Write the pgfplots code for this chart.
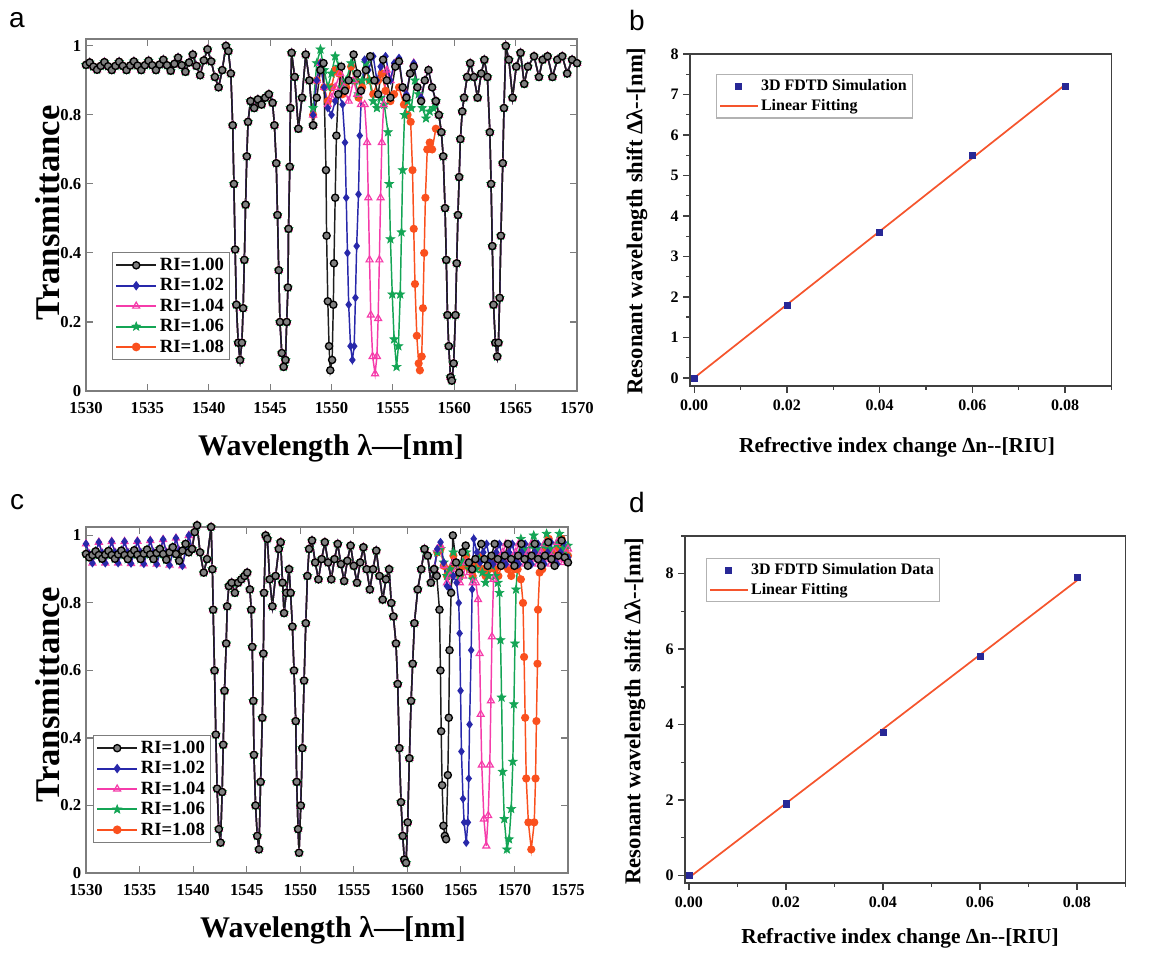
\documentclass[border=0pt]{standalone}
\usepackage{fontspec}
\setmainfont{Liberation Serif}
\newfontfamily\panelfont{Liberation Sans}
\usepackage{pgfplots}
\usepackage{pgfplotstable}
\pgfplotsset{compat=1.18}

\definecolor{c0}{RGB}{30,30,30}
\definecolor{c2}{RGB}{40,40,170}
\definecolor{c4}{RGB}{245,60,170}
\definecolor{c6}{RGB}{20,165,85}
\definecolor{c8}{RGB}{250,80,30}
\definecolor{fitred}{RGB}{245,85,45}
\definecolor{ptblue}{RGB}{40,40,150}
\definecolor{framegray}{RGB}{125,125,125}

% filled five-point star for RI=1.06
\pgfdeclareplotmark{fstar}{%
  \pgfpathmoveto{\pgfpointpolar{90}{\pgfplotmarksize}}%
  \pgfpathlineto{\pgfpointpolar{126}{0.42\pgfplotmarksize}}%
  \pgfpathlineto{\pgfpointpolar{162}{\pgfplotmarksize}}%
  \pgfpathlineto{\pgfpointpolar{198}{0.42\pgfplotmarksize}}%
  \pgfpathlineto{\pgfpointpolar{234}{\pgfplotmarksize}}%
  \pgfpathlineto{\pgfpointpolar{270}{0.42\pgfplotmarksize}}%
  \pgfpathlineto{\pgfpointpolar{306}{\pgfplotmarksize}}%
  \pgfpathlineto{\pgfpointpolar{342}{0.42\pgfplotmarksize}}%
  \pgfpathlineto{\pgfpointpolar{18}{\pgfplotmarksize}}%
  \pgfpathlineto{\pgfpointpolar{54}{0.42\pgfplotmarksize}}%
  \pgfpathclose
  \pgfusepathqfillstroke
}

\pgfplotsset{
  ri0/.style={color=c0, line width=1.1pt, mark=*, mark size=2.7pt,
    mark options={fill=black!50, draw=black, line width=1pt}},
  ri2/.style={color=c2, line width=1.1pt, mark=diamond*, mark size=2.4pt},
  ri4/.style={color=c4, line width=1.1pt, mark=triangle, mark size=3pt,
    mark options={line width=0.9pt}},
  ri6/.style={color=c6, line width=1.1pt, mark=fstar, mark size=3.4pt,
    mark options={line width=0.5pt}},
  ri8/.style={color=c8, line width=1.1pt, mark=*, mark size=2.5pt},
  spec/.style={
    scale only axis, anchor=north west,
    xmin=1530, ymin=0, clip=false,
    axis line style={framegray, line width=0.9pt},
    tick style={framegray, line width=0.8pt},
    tick align=inside, major tick length=5pt,
    ytick={0,0.2,0.4,0.6,0.8,1},
    tick label style={font=\bfseries\fontsize{12.5}{13}\selectfont},
    xticklabel style={yshift=-5pt},
    /pgf/number format/assume math mode=true,
    /pgf/number format/1000 sep={},
    legend cell align=left,
    legend image code/.code={\draw[line width=1.5pt, mark repeat=2, mark phase=2]
      plot coordinates {(0pt,0pt) (15pt,0pt) (30pt,0pt)};},
    legend style={draw=framegray, line width=0.8pt, fill=white,
      font=\bfseries\fontsize{14}{15}\selectfont,
      inner sep=2pt, row sep=0.5pt},
  },
  fit/.style={
    scale only axis, anchor=north west,
    axis line style={black!75, line width=1.1pt},
    tick style={black!75, line width=1pt},
    tick align=outside, xtick pos=left, ytick pos=left,
    major tick length=5pt, minor tick length=3pt,
    xmin=-0.0009, xmax=0.09,
    xtick={0,0.02,0.04,0.06,0.08},
    minor xtick={0.01,0.03,0.05,0.07,0.09},
    scaled x ticks=false,
    tick label style={font=\bfseries\fontsize{12}{13}\selectfont},
    /pgf/number format/assume math mode=true,
    xticklabel style={yshift=-2pt, /pgf/number format/fixed,
      /pgf/number format/fixed zerofill, /pgf/number format/precision=2},
    legend cell align=left,
    legend image code/.code={\draw[mark repeat=2,mark phase=2]
      plot coordinates {(0pt,0pt) (14pt,0pt) (28pt,0pt)};},
    legend style={draw=black!30, line width=0.8pt, fill=white,
      font=\bfseries\fontsize{12}{13}\selectfont,
      inner sep=2pt, row sep=1pt},
  },
}

% ---------- panel a: shared parts ----------
\pgfplotstableread{
x y
1530.0 0.945
1530.3 0.952
1530.6 0.940
1530.9 0.931
1531.2 0.942
1531.5 0.953
1531.8 0.941
1532.1 0.930
1532.4 0.942
1532.7 0.954
1533.0 0.942
1533.3 0.930
1533.6 0.943
1533.9 0.955
1534.2 0.943
1534.5 0.930
1534.8 0.944
1535.1 0.957
1535.4 0.944
1535.7 0.930
1536.0 0.946
1536.3 0.960
1536.6 0.944
1536.9 0.928
1537.2 0.948
1537.5 0.966
1537.8 0.944
1538.1 0.925
1538.4 0.952
1538.7 0.975
1539.0 0.942
1539.3 0.915
1539.6 0.958
1539.9 0.990
1540.2 0.955
1540.5 0.910
1540.8 0.880
1541.1 0.930
1541.4 1.000
1541.6 0.985
1541.8 0.920
1541.95 0.770
1542.05 0.600
1542.15 0.410
1542.25 0.250
1542.4 0.140
1542.55 0.090
1542.7 0.140
1542.8 0.240
1542.9 0.380
1543.0 0.540
1543.1 0.680
1543.2 0.780
1543.4 0.840
1543.7 0.820
1544.0 0.845
1544.3 0.830
1544.6 0.850
1544.9 0.860
1545.2 0.835
1545.35 0.770
1545.5 0.660
1545.6 0.510
1545.7 0.350
1545.8 0.200
1545.95 0.110
1546.1 0.070
1546.25 0.090
1546.35 0.200
1546.45 0.300
1546.5 0.470
1546.6 0.650
1546.65 0.820
1546.75 0.980
1547.0 0.910
1547.3 0.760
1547.6 0.850
1547.9 0.975
1548.2 0.900
1548.5 0.770
}\aL

\pgfplotstableread{
x y
1558.5 0.840
1558.75 0.800
1558.95 0.750
1559.1 0.680
1559.25 0.530
1559.35 0.380
1559.45 0.220
1559.55 0.130
1559.7 0.040
1559.8 0.030
1559.95 0.080
1560.1 0.220
1560.2 0.370
1560.3 0.510
1560.4 0.620
1560.5 0.730
1560.65 0.810
1560.8 0.850
1561.05 0.910
1561.3 0.950
1561.6 0.910
1561.9 0.850
1562.2 0.920
1562.45 0.960
1562.7 0.910
1562.9 0.750
1563.0 0.600
1563.1 0.420
1563.2 0.250
1563.35 0.140
1563.5 0.100
1563.6 0.140
1563.7 0.270
1563.8 0.450
1563.95 0.660
1564.05 0.820
1564.2 1.000
1564.45 0.960
1564.75 0.850
1565.05 0.940
1565.4 0.980
1565.7 0.890
1566.0 0.940
1566.5 0.970
1566.9 0.910
1567.2 0.960
1567.6 0.970
1568.0 0.910
1568.4 0.960
1568.8 0.970
1569.2 0.920
1569.6 0.960
1570.0 0.950
}\aR

% ---------- panel a: series-specific middle parts ----------
\pgfplotstableread{
x y
1548.5 0.770
1548.8 0.850
1549.1 0.930
1549.35 0.950
1549.55 0.640
1549.6 0.450
1549.7 0.260
1549.8 0.130
1549.9 0.060
1550.05 0.090
1550.15 0.250
1550.2 0.370
1550.3 0.560
1550.4 0.740
1550.55 0.860
1550.8 0.940
1551.1 0.870
1551.4 0.900
1551.8 0.975
1552.1 0.920
1552.4 0.870
1552.8 0.930
1553.15 0.970
1553.5 0.900
1553.8 0.860
1554.2 0.960
1554.5 0.900
1554.8 0.850
1555.2 0.940
1555.5 0.955
1555.8 0.880
1556.1 0.850
1556.4 0.920
1556.7 0.940
1557.0 0.880
1557.3 0.840
1557.6 0.900
1557.9 0.930
1558.2 0.880
1558.5 0.840
}\amA

\pgfplotstableread{
x y
1548.5 0.800
1548.8 0.900
1549.1 0.950
1549.4 0.880
1549.7 0.820
1550.0 0.800
1550.3 0.840
1550.6 0.860
1550.9 0.830
1551.1 0.720
1551.2 0.560
1551.3 0.400
1551.4 0.250
1551.55 0.130
1551.7 0.090
1551.85 0.130
1551.95 0.270
1552.05 0.420
1552.2 0.570
1552.3 0.740
1552.45 0.870
1552.7 0.960
1553.0 0.930
1553.4 0.970
1553.7 0.900
1554.0 0.940
1554.4 0.970
1554.8 0.900
1555.1 0.950
1555.5 0.965
1555.8 0.880
1556.1 0.860
1556.4 0.920
1556.7 0.950
1557.0 0.880
1557.3 0.850
1557.6 0.900
1557.9 0.930
1558.2 0.880
1558.5 0.840
}\amB

\pgfplotstableread{
x y
1548.5 0.800
1548.8 0.900
1549.1 0.950
1549.4 0.880
1549.7 0.830
1550.0 0.850
1550.3 0.880
1550.7 0.920
1551.0 0.880
1551.4 0.840
1551.8 0.900
1552.1 0.860
1552.4 0.830
1552.7 0.830
1552.9 0.720
1553.0 0.560
1553.1 0.380
1553.2 0.220
1553.35 0.100
1553.55 0.050
1553.7 0.100
1553.8 0.210
1553.9 0.380
1554.0 0.560
1554.1 0.720
1554.25 0.830
1554.5 0.930
1554.8 0.900
1555.2 0.950
1555.5 0.955
1555.8 0.880
1556.1 0.860
1556.4 0.920
1556.7 0.950
1557.0 0.880
1557.3 0.850
1557.6 0.900
1557.9 0.930
1558.2 0.880
1558.5 0.840
}\amC

\pgfplotstableread{
x y
1548.5 0.820
1548.8 0.950
1549.1 0.990
1549.4 0.930
1549.7 0.880
1550.0 0.920
1550.3 0.970
1550.6 0.940
1550.9 0.880
1551.2 0.900
1551.6 0.950
1551.9 0.900
1552.2 0.860
1552.5 0.900
1552.8 0.950
1553.1 0.900
1553.4 0.840
1553.7 0.820
1554.0 0.850
1554.3 0.830
1554.6 0.750
1554.7 0.600
1554.8 0.440
1554.95 0.280
1555.1 0.150
1555.3 0.070
1555.45 0.130
1555.6 0.280
1555.7 0.460
1555.8 0.640
1555.95 0.800
1556.2 0.840
1556.5 0.820
1556.8 0.900
1557.1 0.860
1557.4 0.820
1557.7 0.790
1558.0 0.810
1558.3 0.820
1558.5 0.840
}\amD

\pgfplotstableread{
x y
1548.5 0.800
1548.8 0.900
1549.1 0.950
1549.4 0.880
1549.7 0.840
1550.0 0.880
1550.3 0.930
1550.6 0.920
1550.9 0.860
1551.2 0.880
1551.6 0.940
1551.9 0.900
1552.2 0.850
1552.5 0.880
1552.8 0.930
1553.1 0.900
1553.4 0.860
1553.8 0.900
1554.1 0.920
1554.4 0.870
1554.8 0.840
1555.1 0.860
1555.5 0.880
1555.9 0.830
1556.2 0.800
1556.45 0.780
1556.6 0.640
1556.7 0.470
1556.8 0.310
1556.95 0.160
1557.1 0.080
1557.2 0.060
1557.35 0.100
1557.45 0.240
1557.55 0.400
1557.65 0.560
1557.8 0.700
1558.0 0.720
1558.2 0.700
1558.5 0.760
}\amE

% ---------- panel c: shared parts ----------
\pgfplotstableread{
x y
1530.0 0.945
1530.3 0.935
1530.6 0.942
1530.9 0.953
1531.2 0.942
1531.5 0.931
1531.8 0.943
1532.1 0.954
1532.4 0.942
1532.7 0.931
1533.0 0.944
1533.3 0.955
1533.6 0.942
1533.9 0.930
1534.2 0.945
1534.5 0.956
1534.8 0.943
1535.1 0.930
1535.4 0.946
1535.7 0.958
1536.0 0.944
1536.3 0.930
1536.6 0.948
1536.9 0.960
1537.2 0.945
1537.5 0.928
1537.8 0.950
1538.1 0.965
1538.4 0.945
1538.7 0.925
1539.0 0.955
1539.3 0.975
1539.6 0.950
1539.9 0.960
}\cflat

\pgfplotstableread{
x y
1530.0 0.975
1530.3 0.945
1530.6 0.918
1530.9 0.948
1531.2 0.980
1531.5 0.948
1531.8 0.918
1532.1 0.950
1532.4 0.982
1532.7 0.950
1533.0 0.918
1533.3 0.948
1533.6 0.982
1533.9 0.950
1534.2 0.917
1534.5 0.948
1534.8 0.983
1535.1 0.950
1535.4 0.916
1535.7 0.950
1536.0 0.985
1536.3 0.950
1536.6 0.915
1536.9 0.950
1537.2 0.988
1537.5 0.950
1537.8 0.912
1538.1 0.950
1538.4 0.992
1538.7 0.955
1539.0 0.910
1539.3 0.955
1539.6 1.000
1539.9 0.960
}\cflatb

\pgfplotstableread{
x y
1539.9 0.960
1540.15 1.010
1540.37 1.030
1540.65 0.950
1540.99 0.890
1541.3 0.930
1541.68 1.025
1541.8 0.900
1541.87 0.780
1542.0 0.600
1542.12 0.410
1542.24 0.250
1542.40 0.130
1542.56 0.090
1542.71 0.240
1542.81 0.380
1542.93 0.540
1543.09 0.680
1543.18 0.790
1543.34 0.850
1543.6 0.860
1543.9 0.830
1544.2 0.860
1544.5 0.870
1544.8 0.880
1545.05 0.890
1545.3 0.840
1545.43 0.780
1545.52 0.670
1545.62 0.510
1545.68 0.350
1545.83 0.200
1545.99 0.110
1546.15 0.070
1546.3 0.270
1546.46 0.460
1546.56 0.650
1546.62 0.830
1546.77 1.000
1546.93 0.990
1547.15 0.870
1547.4 0.790
1547.7 0.880
1548.0 0.960
1548.17 0.980
1548.35 0.860
1548.49 0.770
1548.7 0.830
1548.96 0.900
1549.1 0.830
1549.27 0.730
1549.42 0.600
1549.58 0.450
1549.67 0.270
1549.8 0.130
1549.89 0.060
1550.05 0.200
1550.2 0.370
1550.36 0.570
1550.52 0.740
1550.67 0.880
1550.83 0.960
1551.1 0.985
1551.4 0.920
1551.7 0.870
1552.0 0.930
1552.3 0.980
1552.6 0.920
1552.9 0.870
1553.2 0.930
1553.5 0.975
1553.8 0.915
1554.1 0.865
1554.4 0.925
1554.7 0.970
1555.0 0.910
1555.3 0.860
1555.6 0.920
1555.9 0.965
1556.2 0.900
1556.5 0.840
1556.8 0.900
1557.1 0.955
1557.4 0.880
1557.7 0.810
1558.0 0.870
1558.3 0.900
1558.5 0.800
1558.7 0.760
1558.94 0.680
1559.1 0.560
1559.25 0.370
1559.41 0.210
1559.57 0.110
1559.72 0.040
1559.88 0.030
1560.03 0.150
1560.19 0.340
1560.35 0.510
1560.5 0.620
1560.66 0.740
1560.97 0.840
1561.3 0.900
1561.6 0.960
1561.9 0.940
1562.2 0.860
1562.5 0.900
}\cmain

% ---------- panel c: series-specific right parts ----------
\pgfplotstableread{
x y
1562.5 0.900
1562.75 0.880
1563.0 0.780
1563.09 0.600
1563.16 0.420
1563.25 0.260
1563.37 0.140
1563.5 0.110
1563.62 0.100
1563.78 0.290
1563.87 0.460
1563.94 0.660
1564.09 0.830
1564.25 1.000
1564.55 0.920
1564.85 0.890
1565.15 0.950
1565.45 0.970
1565.75 0.920
1566.05 0.900
1566.35 0.930
1566.9 0.975
1567.2 0.930
1567.5 0.910
1567.85 0.940
1568.15 0.975
1568.45 0.930
1568.75 0.910
1569.1 0.940
1569.4 0.975
1569.7 0.930
1570.0 0.910
1570.35 0.940
1570.65 0.975
1570.95 0.930
1571.25 0.910
1571.6 0.940
1571.9 0.975
1572.2 0.930
1572.5 0.910
1572.85 0.940
1573.15 0.980
1573.45 0.930
1573.75 0.910
1574.1 0.940
1574.4 0.985
1574.7 0.935
1575.0 0.920
}\cmA

\pgfplotstableread{
x y
1562.5 0.900
1562.8 0.960
1563.1 0.980
1563.4 0.920
1563.7 0.850
1564.0 0.840
1564.3 0.880
1564.6 0.860
1564.8 0.800
1564.88 0.710
1564.97 0.540
1565.05 0.360
1565.2 0.220
1565.3 0.150
1565.5 0.090
1565.65 0.150
1565.73 0.280
1565.81 0.440
1565.96 0.660
1566.05 0.840
1566.2 0.990
1566.5 0.950
1566.8 0.920
1567.1 0.950
1567.4 0.975
1567.7 0.930
1568.0 0.915
1568.3 0.950
1568.6 0.975
1568.9 0.930
1569.2 0.915
1569.5 0.950
1569.8 0.975
1570.1 0.930
1570.4 0.915
1570.7 0.950
1571.0 0.975
1571.3 0.930
1571.6 0.915
1571.9 0.950
1572.2 0.975
1572.5 0.930
1572.8 0.915
1573.1 0.950
1573.4 0.980
1573.7 0.930
1574.0 0.915
1574.3 0.950
1574.6 0.980
1575.0 0.935
}\cmB

\pgfplotstableread{
x y
1562.5 0.900
1562.8 0.960
1563.1 0.970
1563.4 0.910
1563.7 0.860
1564.0 0.880
1564.3 0.920
1564.6 0.900
1564.9 0.860
1565.2 0.880
1565.5 0.920
1565.8 0.890
1566.1 0.860
1566.4 0.860
1566.6 0.810
1566.75 0.650
1566.85 0.470
1566.95 0.320
1567.15 0.160
1567.37 0.080
1567.55 0.170
1567.7 0.320
1567.8 0.510
1567.9 0.700
1568.05 0.870
1568.3 0.950
1568.6 0.920
1568.9 0.950
1569.2 0.975
1569.5 0.930
1569.8 0.915
1570.1 0.950
1570.4 0.975
1570.7 0.930
1571.0 0.915
1571.3 0.950
1571.6 0.975
1571.9 0.930
1572.2 0.915
1572.5 0.950
1572.8 0.975
1573.1 0.930
1573.4 0.915
1573.7 0.950
1574.0 0.980
1574.3 0.930
1574.6 0.920
1575.0 0.960
}\cmC

\pgfplotstableread{
x y
1562.5 0.900
1562.8 0.950
1563.1 0.960
1563.4 0.920
1563.7 0.880
1564.0 0.900
1564.3 0.950
1564.6 0.910
1564.9 0.880
1565.2 0.920
1565.5 0.950
1565.8 0.900
1566.1 0.870
1566.4 0.900
1566.7 0.930
1567.0 0.890
1567.3 0.860
1567.6 0.880
1567.9 0.910
1568.2 0.880
1568.45 0.860
1568.6 0.830
1568.7 0.690
1568.8 0.520
1568.9 0.300
1569.05 0.160
1569.3 0.070
1569.5 0.100
1569.7 0.190
1569.85 0.330
1569.95 0.500
1570.05 0.680
1570.15 0.840
1570.35 0.940
1570.6 0.990
1570.9 0.960
1571.2 0.930
1571.5 0.970
1571.8 1.000
1572.1 0.960
1572.4 0.930
1572.7 0.970
1573.0 1.005
1573.3 0.960
1573.6 0.935
1573.9 0.975
1574.2 1.005
1574.5 0.960
1574.8 0.940
1575.0 0.970
}\cmD

\pgfplotstableread{
x y
1562.5 0.900
1562.8 0.950
1563.1 0.960
1563.4 0.910
1563.7 0.880
1564.0 0.900
1564.3 0.940
1564.6 0.910
1564.9 0.880
1565.2 0.910
1565.5 0.940
1565.8 0.900
1566.1 0.880
1566.4 0.910
1566.7 0.940
1567.0 0.900
1567.3 0.880
1567.6 0.900
1567.9 0.930
1568.2 0.900
1568.5 0.880
1568.8 0.910
1569.1 0.930
1569.4 0.900
1569.7 0.880
1570.0 0.900
1570.3 0.900
1570.6 0.870
1570.8 0.800
1570.9 0.640
1571.0 0.460
1571.1 0.280
1571.3 0.150
1571.57 0.070
1571.85 0.150
1571.97 0.280
1572.05 0.450
1572.15 0.620
1572.2 0.780
1572.35 0.890
1572.6 0.900
1572.9 0.960
1573.2 0.990
1573.5 0.950
1573.8 0.920
1574.1 0.960
1574.4 0.990
1574.7 0.950
1575.0 0.940
}\cmE

\begin{document}
\begin{tikzpicture}
\useasboundingbox (0pt,0pt) rectangle (867.75pt,-716.25pt);

% ---------------- a ----------------
\begin{axis}[spec, at={(64.5pt,-29.25pt)}, width=368.25pt, height=264pt,
  xmax=1570, ymax=1.02, xtick={1530,1535,...,1570},
  legend style={at={(0.053,0.088)}, anchor=south west}]
  \addlegendimage{ri0}\addlegendentry{RI=1.00}
  \addlegendimage{ri2}\addlegendentry{RI=1.02}
  \addlegendimage{ri4}\addlegendentry{RI=1.04}
  \addlegendimage{ri6}\addlegendentry{RI=1.06}
  \addlegendimage{ri8}\addlegendentry{RI=1.08}
  \addplot[ri8, forget plot] table {\aL};
  \addplot[ri8, forget plot] table {\amE};
  \addplot[ri8, forget plot] table {\aR};
  \addplot[ri6, forget plot] table {\aL};
  \addplot[ri6, forget plot] table {\amD};
  \addplot[ri6, forget plot] table {\aR};
  \addplot[ri4, forget plot] table {\aL};
  \addplot[ri4, forget plot] table {\amC};
  \addplot[ri4, forget plot] table {\aR};
  \addplot[ri2, forget plot] table {\aL};
  \addplot[ri2, forget plot] table {\amB};
  \addplot[ri2, forget plot] table {\aR};
  \addplot[ri0, forget plot] table {\aL};
  \addplot[ri0, forget plot] table {\amA};
  \addplot[ri0, forget plot] table {\aR};
\end{axis}

% ---------------- c ----------------
\begin{axis}[spec, at={(64.5pt,-395.25pt)}, width=361.5pt, height=259.5pt,
  xmax=1575, ymax=1.025, xtick={1530,1535,...,1575},
  legend style={at={(0.0145,0.087)}, anchor=south west}]
  \addlegendimage{ri0}\addlegendentry{RI=1.00}
  \addlegendimage{ri2}\addlegendentry{RI=1.02}
  \addlegendimage{ri4}\addlegendentry{RI=1.04}
  \addlegendimage{ri6}\addlegendentry{RI=1.06}
  \addlegendimage{ri8}\addlegendentry{RI=1.08}
  \addplot[ri8, forget plot] table {\cflat};
  \addplot[ri8, forget plot] table {\cmain};
  \addplot[ri8, forget plot] table {\cmE};
  \addplot[ri6, forget plot] table {\cflat};
  \addplot[ri6, forget plot] table {\cmain};
  \addplot[ri6, forget plot] table {\cmD};
  \addplot[ri4, forget plot] table {\cflatb};
  \addplot[ri4, forget plot] table {\cmain};
  \addplot[ri4, forget plot] table {\cmC};
  \addplot[ri2, forget plot] table {\cflatb};
  \addplot[ri2, forget plot] table {\cmain};
  \addplot[ri2, forget plot] table {\cmB};
  \addplot[ri0, forget plot] table {\cflat};
  \addplot[ri0, forget plot] table {\cmain};
  \addplot[ri0, forget plot] table {\cmA};
\end{axis}

% ---------------- b ----------------
\begin{axis}[fit, at={(517.5pt,-40.5pt)}, width=316.125pt, height=249pt,
  ymin=-0.2, ymax=8, ytick={0,1,...,8}, minor ytick={0.5,1.5,...,7.5},
  legend style={at={(0.062,0.94)}, anchor=north west}]
  \addplot[only marks, mark=square*, mark size=2.3pt, color=ptblue] coordinates {
    (0,0) (0.02,1.8) (0.04,3.6) (0.06,5.5) (0.08,7.2)};
  \addlegendentry{3D FDTD Simulation}
  \addplot[fitred, line width=1.3pt] coordinates {(0,0.0) (0.08,7.24)};
  \addlegendentry{Linear Fitting}
\end{axis}

% ---------------- d ----------------
\begin{axis}[fit, at={(513.75pt,-402pt)}, width=330.375pt, height=260.25pt,
  xmin=-0.0008,
  ymin=-0.2, ymax=9, ytick={0,2,4,6,8}, minor ytick={1,3,5,7,9},
  legend style={at={(0.048,0.937)}, anchor=north west}]
  \addplot[only marks, mark=square*, mark size=2.3pt, color=ptblue] coordinates {
    (0,0) (0.02,1.9) (0.04,3.8) (0.06,5.8) (0.08,7.9)};
  \addlegendentry{3D FDTD Simulation Data}
  \addplot[fitred, line width=1.3pt] coordinates {(0,-0.06) (0.08,7.82)};
  \addlegendentry{Linear Fitting}
\end{axis}

% axis titles
\node[font=\bfseries\fontsize{22.5}{24}\selectfont] at (248.25pt,-336pt) {Wavelength λ—[nm]};
\node[font=\bfseries\fontsize{26}{28}\selectfont, rotate=90] at (36pt,-159.75pt) {Transmittance};
\node[font=\bfseries\fontsize{22.5}{24}\selectfont] at (249.75pt,-697.5pt) {Wavelength λ—[nm]};
\node[font=\bfseries\fontsize{26}{28}\selectfont, rotate=90] at (36pt,-521.25pt) {Transmittance};
\node[font=\bfseries\fontsize{16}{18}\selectfont] at (672.75pt,-335.25pt) {Refrective index change Δn-{}-[RIU]};
\node[font=\bfseries\fontsize{17}{19}\selectfont, rotate=90] at (477.75pt,-165.75pt) {Resonant wavelength shift Δλ-{}-[nm]};
\node[font=\bfseries\fontsize{16}{18}\selectfont] at (675pt,-703.5pt) {Refractive index change Δn-{}-[RIU]};
\node[font=\bfseries\fontsize{17}{19}\selectfont, rotate=90] at (476.25pt,-533.25pt) {Resonant wavelength shift Δλ-{}-[nm]};

% panel letters
\node[font=\panelfont\fontsize{21}{23}\selectfont] at (12.75pt,-15pt) {a};
\node[font=\panelfont\fontsize{21}{23}\selectfont] at (477.75pt,-15pt) {b};
\node[font=\panelfont\fontsize{21}{23}\selectfont] at (12.75pt,-376.5pt) {c};
\node[font=\panelfont\fontsize{21}{23}\selectfont] at (477.75pt,-376.5pt) {d};
\end{tikzpicture}
\end{document}
